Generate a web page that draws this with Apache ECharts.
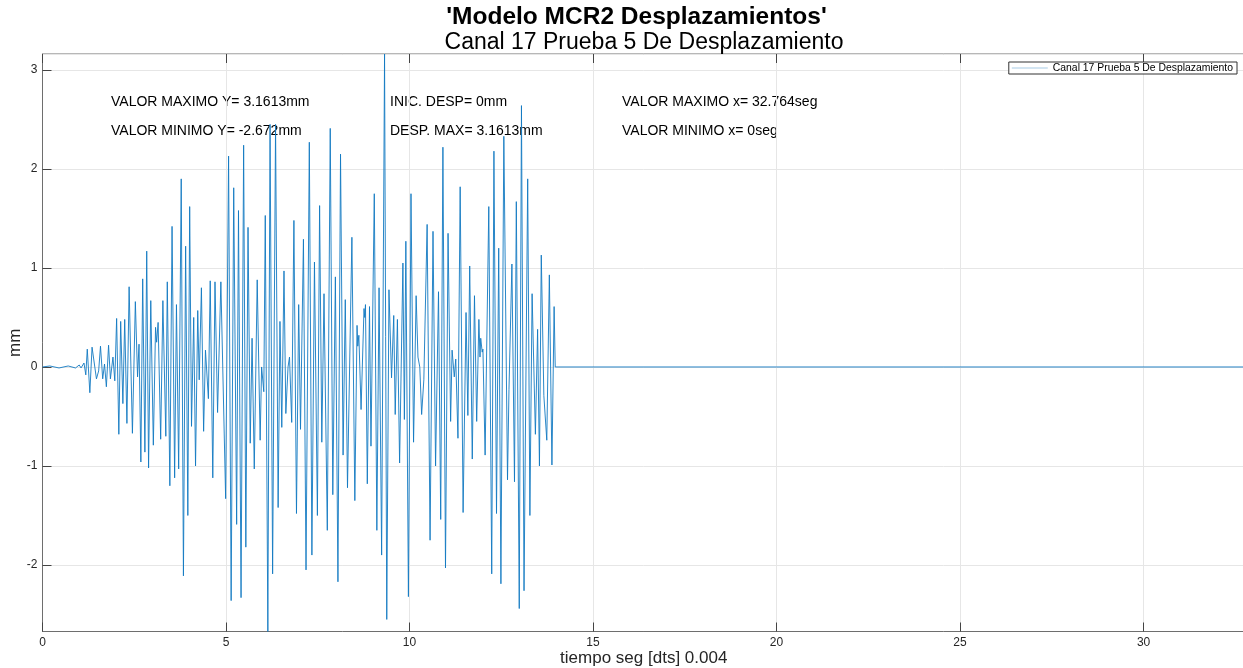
<!DOCTYPE html>
<html>
<head>
<meta charset="utf-8">
<script src="https://cdn.jsdelivr.net/npm/echarts@6/dist/echarts.min.js"></script>
<style>
html,body{margin:0;padding:0;background:#fff;}
#chart{width:1243px;height:668px;}
</style>
</head>
<body>
<div id="chart"></div>
<script>
// time (s) of each turning point
const times = [
  0, 0.2, 0.45, 0.7, 0.9, 1.0, 1.05, 1.13, 1.18, 1.22, 1.29, 1.35, 1.47, 1.53, 1.58, 1.64, 1.69, 1.74, 1.80, 1.85, 1.92, 1.97,
  2.02, 2.08, 2.13, 2.19, 2.24, 2.30, 2.36, 2.45, 2.53, 2.59, 2.63, 2.68, 2.73, 2.79, 2.84, 2.89, 2.95,
  3.02, 3.08, 3.11, 3.15, 3.22, 3.28, 3.36, 3.40, 3.47, 3.53, 3.60, 3.65, 3.71, 3.78, 3.84, 3.90, 3.96,
  4.01, 4.06, 4.12, 4.17, 4.23, 4.27, 4.33, 4.39, 4.44, 4.52, 4.57, 4.64, 4.70, 4.77, 4.86, 4.99,
  5.07, 5.14, 5.21, 5.29, 5.34, 5.41, 5.48, 5.54, 5.60, 5.66, 5.71, 5.77, 5.85, 5.93, 5.97,
  6.03, 6.07, 6.14, 6.20, 6.27, 6.35, 6.42, 6.47, 6.52, 6.58, 6.63, 6.69, 6.73, 6.79, 6.85, 6.92, 6.98,
  7.03, 7.11, 7.18, 7.27, 7.34, 7.41, 7.49, 7.55, 7.61, 7.67, 7.76, 7.84, 7.91, 7.98,
  8.05, 8.12, 8.19, 8.25, 8.31, 8.43, 8.51, 8.57, 8.59, 8.62, 8.68, 8.76, 8.78, 8.80, 8.85, 8.91, 8.95,
  9.04, 9.11, 9.17, 9.24, 9.32, 9.38, 9.44, 9.51, 9.57, 9.61, 9.67, 9.73, 9.82, 9.86, 9.90, 9.97,
  10.04, 10.11, 10.18, 10.23, 10.28, 10.33, 10.39, 10.48, 10.56, 10.64, 10.71, 10.79, 10.85, 10.91, 10.98,
  11.05, 11.12, 11.16, 11.22, 11.26, 11.32, 11.38, 11.46, 11.54, 11.59, 11.64, 11.71, 11.77, 11.83, 11.89, 11.92, 11.94, 11.98,
  12.00, 12.06, 12.16, 12.24, 12.30, 12.37, 12.43, 12.49, 12.57, 12.67, 12.71, 12.74, 12.79, 12.86, 12.91, 12.99,
  13.05, 13.12, 13.22, 13.28, 13.34, 13.43, 13.49, 13.54, 13.59, 13.66, 13.74, 13.81, 13.88, 13.94, 13.97,
  20, 32.764
];
// displacement (mm) at each turning point
const disp = [
  0, 0.01, -0.01, 0.01, -0.01, 0.02, -0.01, 0.04, -0.08, 0.18, -0.26, 0.20, -0.12, -0.04, 0.21, -0.12, 0.03, -0.20, 0.22, -0.12, 0.10, -0.14,
  0.49, -0.68, 0.46, -0.37, 0.48, -0.57, 0.81, -0.67, 0.66, -0.10, 0.23, -0.96, 0.89, -0.86, 1.17, -1.02, 0.67,
  -0.79, 0.40, 0.25, 0.45, -0.73, 0.67, -0.70, 0.86, -1.20, 1.42, -1.12, 0.63, -1.03, 1.90, -2.11, 1.22, -1.50,
  1.62, -0.60, 0.50, -1.00, 0.57, -0.13, 0.80, -0.65, 0.17, -0.32, 0.87, -1.12, 0.86, -0.46, 0.86, -1.33,
  2.13, -2.36, 1.81, -1.59, 1.58, -2.33, 2.24, -1.82, 1.41, -0.77, 0.29, -1.03, 0.88, -0.74, 0.00,
  -0.25, 1.53, -2.672, 2.45, -2.09, 2.45, -1.42, 0.46, -0.61, 0.97, -0.47, 0.00, 0.10, -0.56, 1.48, -1.48, 0.63,
  -0.63, 1.29, -2.05, 2.27, -1.90, 1.06, -1.50, 1.63, -0.76, 0.74, -1.65, 2.41, -1.29, 0.91,
  -2.17, 2.15, -0.89, 0.68, -1.22, 1.31, -1.35, 0.42, 0.21, 0.32, -0.43, 0.59, 0.50, 0.63, -1.18, 0.61, -0.80,
  1.75, -1.65, 0.80, -1.90, 3.1613, -2.55, 0.78, -0.11, 0.52, -0.48, 0.48, -0.97, 1.05, -0.53, 1.27, -2.32,
  1.75, -0.76, 0.72, 0.10, 0.00, -0.48, -0.13, 1.44, -1.75, 1.37, -1.00, 0.76, -1.54, 2.22, -2.03,
  1.35, -0.55, 0.17, -0.10, 0.08, -0.72, 1.82, -1.47, 0.55, -0.49, 1.02, -0.93, 0.72, -0.55, 0.48, 0.10, 0.29, 0.15,
  0.18, -0.89, 1.62, -2.09, 2.18, -1.48, 1.20, -2.19, 2.33, -1.14, -0.23, -0.25, 1.04, -1.16, 1.67, -2.44,
  2.64, -2.26, 1.90, -1.50, 0.74, -0.68, 0.38, -1.00, 1.13, -0.29, -0.74, 0.93, -0.99, 0.61, 0.00,
  0, 0
];
const xRange = [0, 32.764];
const yRange = [-2.672, 3.1613];
const titleText = "'Modelo MCR2 Desplazamientos'";
const subtitleText = 'Canal 17 Prueba 5 De Desplazamiento';
const seriesName = 'Canal 17 Prueba 5 De Desplazamiento';
const xName = 'tiempo seg [dts] 0.004';
const yName = 'mm';
const notes = [
  ['VALOR MAXIMO Y= 3.1613mm', 'VALOR MINIMO Y= -2.672mm'],
  ['INIC. DESP= 0mm', 'DESP. MAX= 3.1613mm'],
  ['VALOR MAXIMO x= 32.764seg', 'VALOR MINIMO x= 0seg']
];

const FONT = '"Liberation Sans", Arial, Helvetica, sans-serif';
const chart = echarts.init(document.getElementById('chart'), null, {renderer: 'canvas'});
const pts = times.map((t, i) => [t, disp[i]]);
const noteX = [111, 390, 622];
const graphic = [];
notes.forEach((col, i) => {
  col.forEach((txt, j) => {
    graphic.push({type: 'text', x: noteX[i], y: 102 + j * 29,
      style: {text: txt, font: '14px ' + FONT, fill: '#000', verticalAlign: 'middle', align: 'left'}});
  });
});
graphic.push({type: 'text', x: 636.5, y: 17, style: {text: titleText, font: 'bold 24.5px ' + FONT, fill: '#000', align: 'center', verticalAlign: 'middle'}});
graphic.push({type: 'text', x: 644, y: 43, style: {text: subtitleText, font: '23px ' + FONT, fill: '#000', align: 'center', verticalAlign: 'middle'}});

chart.setOption({
  animation: false,
  backgroundColor: '#fff',
  textStyle: {fontFamily: FONT},
  grid: {left: 42.5, right: -2, top: 54, bottom: 36.5, containLabel: false, outerBoundsMode: 'none',
    show: true, borderColor: '#6e6e6e', borderWidth: 1, backgroundColor: 'transparent'},
  legend: {
    data: [{name: seriesName, icon: 'rect'}],
    right: 6, top: 62, itemWidth: 36, itemHeight: 1, itemGap: 4,
    borderColor: '#333', borderWidth: 1, padding: [1, 4, 1, 3],
    backgroundColor: '#fff',
    itemStyle: {color: '#a8cbe6'},
    textStyle: {fontSize: 10.4, color: '#000', fontFamily: FONT}
  },
  xAxis: [{
    type: 'value', min: xRange[0], max: xRange[1], interval: 5,
    name: xName, nameLocation: 'middle', nameGap: 18, nameMoveOverlap: false,
    nameTextStyle: {fontSize: 17, color: '#262626', fontFamily: FONT},
    axisLine: {show: true, onZero: false, lineStyle: {color: '#6e6e6e'}},
    axisTick: {show: true, inside: true, length: 9, lineStyle: {color: '#444'}},
    axisLabel: {fontSize: 12, color: '#262626', margin: 5, showMaxLabel: false},
    splitLine: {show: true, lineStyle: {color: '#e6e6e6', width: 1}}
  }, {
    type: 'value', position: 'top', min: xRange[0], max: xRange[1], interval: 5,
    axisLine: {show: false, onZero: false},
    axisTick: {show: true, inside: true, length: 9, lineStyle: {color: '#444'}},
    axisLabel: {show: false}, splitLine: {show: false}
  }],
  yAxis: [{
    type: 'value', min: yRange[0], max: yRange[1], splitNumber: 6,
    name: yName, nameLocation: 'middle', nameGap: 19, nameMoveOverlap: false,
    nameTextStyle: {fontSize: 17, color: '#262626', fontFamily: FONT},
    axisLine: {show: true, onZero: false, lineStyle: {color: '#6e6e6e'}},
    axisTick: {show: true, inside: true, length: 9, lineStyle: {color: '#444'}},
    axisLabel: {fontSize: 12, color: '#262626', margin: 5, showMinLabel: false, showMaxLabel: false,
      formatter: v => (Math.abs(v - Math.round(v)) < 1e-9 ? String(Math.round(v)) : '')},
    splitLine: {show: true, lineStyle: {color: '#e6e6e6', width: 1}}
  }],
  series: [{
    name: seriesName, type: 'line', data: pts, showSymbol: false, symbol: 'none',
    lineStyle: {color: '#1279c2', width: 0.9}, itemStyle: {color: '#1279c2'},
    xAxisIndex: 0, yAxisIndex: 0, silent: true, clip: true
  }],
  graphic: graphic
});
</script>
</body>
</html>
